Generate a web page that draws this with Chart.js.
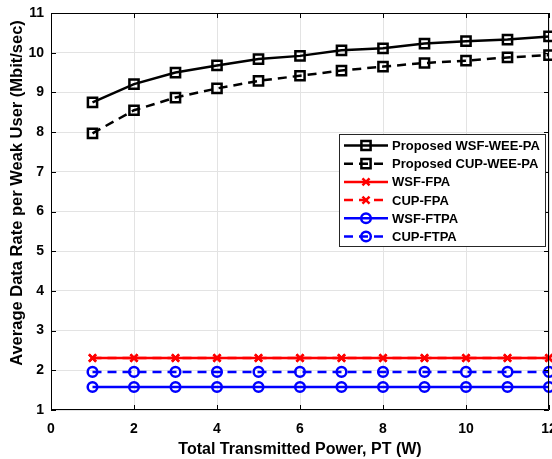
<!DOCTYPE html>
<html>
<head>
<meta charset="utf-8">
<script src="https://cdn.jsdelivr.net/npm/chart.js@4.4.1/dist/chart.umd.min.js"></script>
<style>
  html, body { margin: 0; padding: 0; background: #fff; }
  #wrap { width: 552px; height: 459px; }
</style>
</head>
<body>
<div id="wrap"><canvas id="rateChart"></canvas></div>
<script>
// transmitted power (W)
const powerLevels = [1, 2, 3, 4, 5, 6, 7, 8, 9, 10, 11, 12];

// average data rate per weak user (Mbit/sec)
const wsfWeePa = [8.75, 9.21, 9.50, 9.68, 9.84, 9.92, 10.06, 10.11, 10.23, 10.29, 10.33, 10.41];
const cupWeePa = [7.97, 8.55, 8.87, 9.10, 9.29, 9.42, 9.55, 9.65, 9.74, 9.80, 9.88, 9.94];
const wsfFpa = [2.31, 2.31, 2.31, 2.31, 2.31, 2.31, 2.31, 2.31, 2.31, 2.31, 2.31, 2.31];
const cupFpa = [2.31, 2.31, 2.31, 2.31, 2.31, 2.31, 2.31, 2.31, 2.31, 2.31, 2.31, 2.31];
const wsfFtpa = [1.58, 1.58, 1.58, 1.58, 1.58, 1.58, 1.58, 1.58, 1.58, 1.58, 1.58, 1.58];
const cupFtpa = [1.96, 1.96, 1.96, 1.96, 1.96, 1.96, 1.96, 1.96, 1.96, 1.96, 1.96, 1.96];

const seriesNames = ["Proposed WSF-WEE-PA", "Proposed CUP-WEE-PA", "WSF-FPA", "CUP-FPA", "WSF-FTPA", "CUP-FTPA"];

const xTicks = [0, 2, 4, 6, 8, 10, 12];
const yTicks = [1, 2, 3, 4, 5, 6, 7, 8, 9, 10, 11];

const yTitle = "Average Data Rate per Weak User (Mbit/sec)";

const FONT = "'Liberation Sans', Arial, sans-serif";

function makeSet(label, values, color, dashed, marker, radius, width) {
    return {
        label: label,
        data: values.map((v, i) => ({ x: powerLevels[i], y: v })),
        borderColor: color,
        borderWidth: width,
        borderDash: dashed ? [9, 6] : [],
        pointStyle: marker,
        pointRadius: radius,
        pointHoverRadius: radius,
        pointBorderColor: color,
        pointBackgroundColor: "rgba(0,0,0,0)",
        pointBorderWidth: 2.5,
        tension: 0,
        clip: false
    };
}

const datasets = [
    makeSet(seriesNames[0], wsfWeePa, "#000000", false, "rect", 6.5, 2.5),
    makeSet(seriesNames[1], cupWeePa, "#000000", true, "rect", 6.5, 2.5),
    makeSet(seriesNames[2], wsfFpa, "#ff0000", false, "crossRot", 5, 2.5),
    makeSet(seriesNames[3], cupFpa, "#ff0000", true, "crossRot", 5, 2.5),
    makeSet(seriesNames[4], wsfFtpa, "#0000ff", false, "circle", 4.8, 2.5),
    makeSet(seriesNames[5], cupFtpa, "#0000ff", true, "circle", 4.8, 2.5)
];

// draw one legend/marker sample by hand
function drawMarker(ctx, style, x, y, r) {
    ctx.beginPath();
    if (style === "rect") {
        const s = Math.SQRT1_2 * r;
        ctx.rect(x - s, y - s, 2 * s, 2 * s);
    } else if (style === "circle") {
        ctx.arc(x, y, r, 0, Math.PI * 2);
    } else if (style === "crossRot") {
        const s = Math.SQRT1_2 * r;
        ctx.moveTo(x - s, y - s); ctx.lineTo(x + s, y + s);
        ctx.moveTo(x - s, y + s); ctx.lineTo(x + s, y - s);
    }
    ctx.stroke();
}

// matlab style box: top/right border and inward ticks
const boxPlugin = {
    id: "boxPlugin",
    afterDatasetsDraw(chart) {
        const { ctx, chartArea: a, scales } = chart;
        ctx.save();
        ctx.strokeStyle = "#000";
        ctx.lineWidth = 1;
        ctx.beginPath();
        ctx.rect(a.left + 0.5, a.top + 0.5, a.right - a.left - 1, a.bottom - a.top - 1);
        ctx.stroke();
        ctx.beginPath();
        yTicks.forEach(v => {
            const y = Math.round(scales.y.getPixelForValue(v)) + 0.5;
            ctx.moveTo(a.left, y); ctx.lineTo(a.left + 5, y);
            ctx.moveTo(a.right, y); ctx.lineTo(a.right - 5, y);
        });
        xTicks.forEach(v => {
            const x = Math.round(scales.x.getPixelForValue(v)) + 0.5;
            ctx.moveTo(x, a.bottom); ctx.lineTo(x, a.bottom - 5);
            ctx.moveTo(x, a.top); ctx.lineTo(x, a.top + 5);
        });
        ctx.stroke();

        // y axis title, sitting a little above the axis centre like the original
        ctx.save();
        ctx.translate(17, 193);
        ctx.rotate(-Math.PI / 2);
        ctx.font = "bold 16.5px " + FONT;
        ctx.fillStyle = "#000";
        ctx.textAlign = "center";
        ctx.textBaseline = "middle";
        ctx.fillText(yTitle, 0, 0);
        ctx.restore();
        ctx.restore();
    },
    afterDraw(chart) {
        // legend box inside the plot
        const { ctx } = chart;
        const boxLeft = 339, boxTop = 134, boxW = 206, boxH = 112;
        ctx.save();
        ctx.fillStyle = "#fff";
        ctx.fillRect(boxLeft, boxTop, boxW, boxH);
        ctx.strokeStyle = "#262626";
        ctx.lineWidth = 1;
        ctx.strokeRect(boxLeft + 0.5, boxTop + 0.5, boxW, boxH);
        ctx.font = "bold 13px " + FONT;
        ctx.textBaseline = "middle";
        chart.data.datasets.forEach((ds, i) => {
            const y = boxTop + 11.5 + i * 18.2;
            ctx.strokeStyle = ds.borderColor;
            ctx.lineWidth = ds.borderWidth;
            ctx.setLineDash(ds.borderDash);
            ctx.beginPath();
            ctx.moveTo(344, y); ctx.lineTo(388, y);
            ctx.stroke();
            ctx.setLineDash([]);
            ctx.lineWidth = ds.pointBorderWidth;
            drawMarker(ctx, ds.pointStyle, 366, y, ds.pointRadius);
            ctx.fillStyle = "#000";
            ctx.fillText(ds.label, 392, y + 1);
        });
        ctx.restore();
    }
};

new Chart(document.getElementById("rateChart"), {
    type: "line",
    data: { datasets: datasets },
    options: {
        responsive: true,
        maintainAspectRatio: false,
        animation: false,
        events: [],
        layout: { autoPadding: false, padding: { top: 13, right: 3, left: 0, bottom: 0 } },
        plugins: {
            legend: { display: false },
            tooltip: { enabled: false }
        },
        scales: {
            x: {
                type: "linear",
                min: 0,
                max: 12,
                afterBuildTicks: axis => { axis.ticks = xTicks.map(v => ({ value: v })); },
                afterFit: axis => { axis.height = 49; axis.paddingLeft = 0; axis.paddingRight = 0; },
                grid: { color: "#e3e3e3", lineWidth: 1, drawTicks: false },
                border: { display: false },
                ticks: {
                    padding: 11,
                    color: "#000",
                    font: { family: FONT, size: 14, weight: "bold" }
                },
                title: {
                    display: true,
                    text: "Total Transmitted Power, PT (W)",
                    color: "#000",
                    padding: { top: 1, bottom: 0 },
                    font: { family: FONT, size: 16, weight: "bold" }
                }
            },
            y: {
                min: 1,
                max: 11,
                afterBuildTicks: axis => { axis.ticks = yTicks.map(v => ({ value: v })); },
                afterFit: axis => { axis.width = 51; axis.paddingTop = 0; axis.paddingBottom = 0; },
                grid: { color: "#e3e3e3", lineWidth: 1, drawTicks: false },
                border: { display: false },
                ticks: {
                    padding: 7,
                    color: "#000",
                    font: { family: FONT, size: 14, weight: "bold" }
                },
                title: { display: false }
            }
        }
    },
    plugins: [boxPlugin]
});
</script>
</body>
</html>
